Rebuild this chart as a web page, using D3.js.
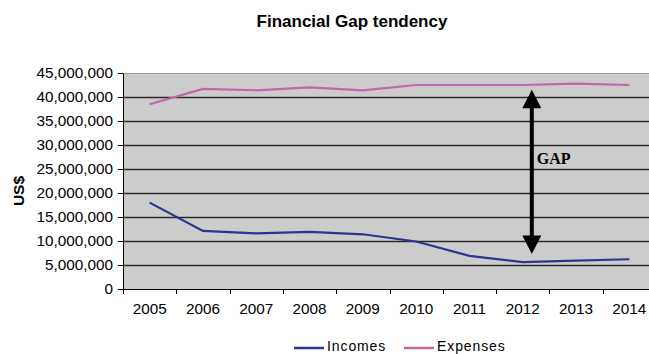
<!DOCTYPE html>
<html><head><meta charset="utf-8">
<script src="https://cdn.jsdelivr.net/npm/d3@7"></script>
<style>body{margin:0;background:#fff}svg{display:block}</style>
</head><body>
<script>
const years = ["2005","2006","2007","2008","2009","2010","2011","2012","2013","2014"];
const incomes = [18000000,12100000,11600000,11900000,11400000,9900000,6900000,5600000,5900000,6200000];
const expenses = [38500000,41700000,41400000,42000000,41400000,42500000,42500000,42500000,42800000,42500000];
const yTicks = [0,5000000,10000000,15000000,20000000,25000000,30000000,35000000,40000000,45000000];
const seriesNames = ["Incomes","Expenses"];
const seriesColors = ["#2b3590","#c565ad"];
const gapTop = 41500000, gapBottom = 7300000, gapLabel = "GAP", gapLabelValue = 26000000;

const W=649,H=354;
const svg=d3.select("body").append("svg").attr("width",W).attr("height",H);
const m={l:123,t:73,r:656,b:289};
const x=d3.scaleBand().domain(years).range([m.l,m.r]);
const y=d3.scaleLinear().domain([0,45000000]).range([m.b,m.t]);

svg.append("rect").attr("x",m.l).attr("y",m.t).attr("width",m.r-m.l).attr("height",m.b-m.t).attr("fill","#cccccc");
svg.append("line").attr("x1",m.l).attr("x2",m.r).attr("y1",m.t+0.5).attr("y2",m.t+0.5).attr("stroke","#999").attr("stroke-width",1);
svg.append("g").selectAll("line").data(yTicks.filter(d=>d>0&&d<45000000)).join("line")
  .attr("x1",m.l).attr("x2",m.r).attr("y1",d=>Math.round(y(d))+0.5).attr("y2",d=>Math.round(y(d))+0.5)
  .attr("stroke","#2a2a2a").attr("stroke-width",1.3);

const fmt=d3.format(",");
const ya=svg.append("g").attr("transform",`translate(${m.l},0)`)
  .call(d3.axisLeft(y).tickValues(yTicks).tickFormat(fmt).tickSize(5).tickSizeOuter(0).tickPadding(5));
ya.select(".domain").attr("stroke","#000");
ya.selectAll("line").attr("stroke","#000");
ya.selectAll("text").attr("font-family","Liberation Sans, Arial, sans-serif").attr("font-size","15.3px").attr("fill","#000");

const xa=svg.append("g").attr("transform",`translate(0,${m.b})`)
  .call(d3.axisBottom(x).tickSize(0).tickPadding(14));
xa.select(".domain").attr("stroke","#000");
xa.selectAll("text").attr("font-family","Liberation Sans, Arial, sans-serif").attr("font-size","15.3px").attr("fill","#000");
const bounds=years.map(d=>x(d)).concat([x(years[years.length-1])+x.bandwidth()]);
svg.append("g").selectAll("line").data(bounds).join("line")
  .attr("x1",d=>Math.round(d)+0.5).attr("x2",d=>Math.round(d)+0.5).attr("y1",m.b).attr("y2",m.b+5).attr("stroke","#000");

const line=d3.line().x((d,i)=>x(years[i])+x.bandwidth()/2).y(d=>y(d));
[incomes,expenses].forEach((s,i)=>{
  svg.append("path").datum(s).attr("d",line).attr("fill","none").attr("stroke",seriesColors[i]).attr("stroke-width",2.2);
});

// GAP arrow
const ax=x("2012")+x.bandwidth()*0.67;
const yt=y(gapTop), yb=y(gapBottom);
svg.append("line").attr("x1",ax).attr("x2",ax).attr("y1",yt+15).attr("y2",yb-15).attr("stroke","#000").attr("stroke-width",4);
svg.append("path").attr("d",`M${ax},${yt}L${ax-9.5},${yt+18.5}L${ax+9.5},${yt+18.5}Z`).attr("fill","#000");
svg.append("path").attr("d",`M${ax},${yb}L${ax-9.5},${yb-18.5}L${ax+9.5},${yb-18.5}Z`).attr("fill","#000");
svg.append("text").attr("x",ax+5).attr("y",y(gapLabelValue)).text(gapLabel)
  .attr("font-family","Liberation Serif, Times New Roman, serif").attr("font-weight","bold").attr("font-size","16px");

svg.append("text").attr("x",352).attr("y",27).attr("text-anchor","middle").text("Financial Gap tendency")
  .attr("font-family","Liberation Sans, Arial, sans-serif").attr("font-weight","bold").attr("font-size","17px");
svg.append("text").attr("transform","translate(24,191) rotate(-90)").attr("text-anchor","middle").text("US$")
  .attr("font-family","Liberation Sans, Arial, sans-serif").attr("font-weight","bold").attr("font-size","15.5px");

const lg=[{x:294,i:0},{x:404,i:1}];
lg.forEach(d=>{
  svg.append("line").attr("x1",d.x).attr("x2",d.x+30).attr("y1",348).attr("y2",348).attr("stroke",seriesColors[d.i]).attr("stroke-width",2.5);
  svg.append("text").attr("x",d.x+33).attr("y",351).text(seriesNames[d.i])
    .attr("font-family","Liberation Sans, Arial, sans-serif").attr("font-size","14px").attr("letter-spacing","0.9px");
});
</script>
</body></html>
